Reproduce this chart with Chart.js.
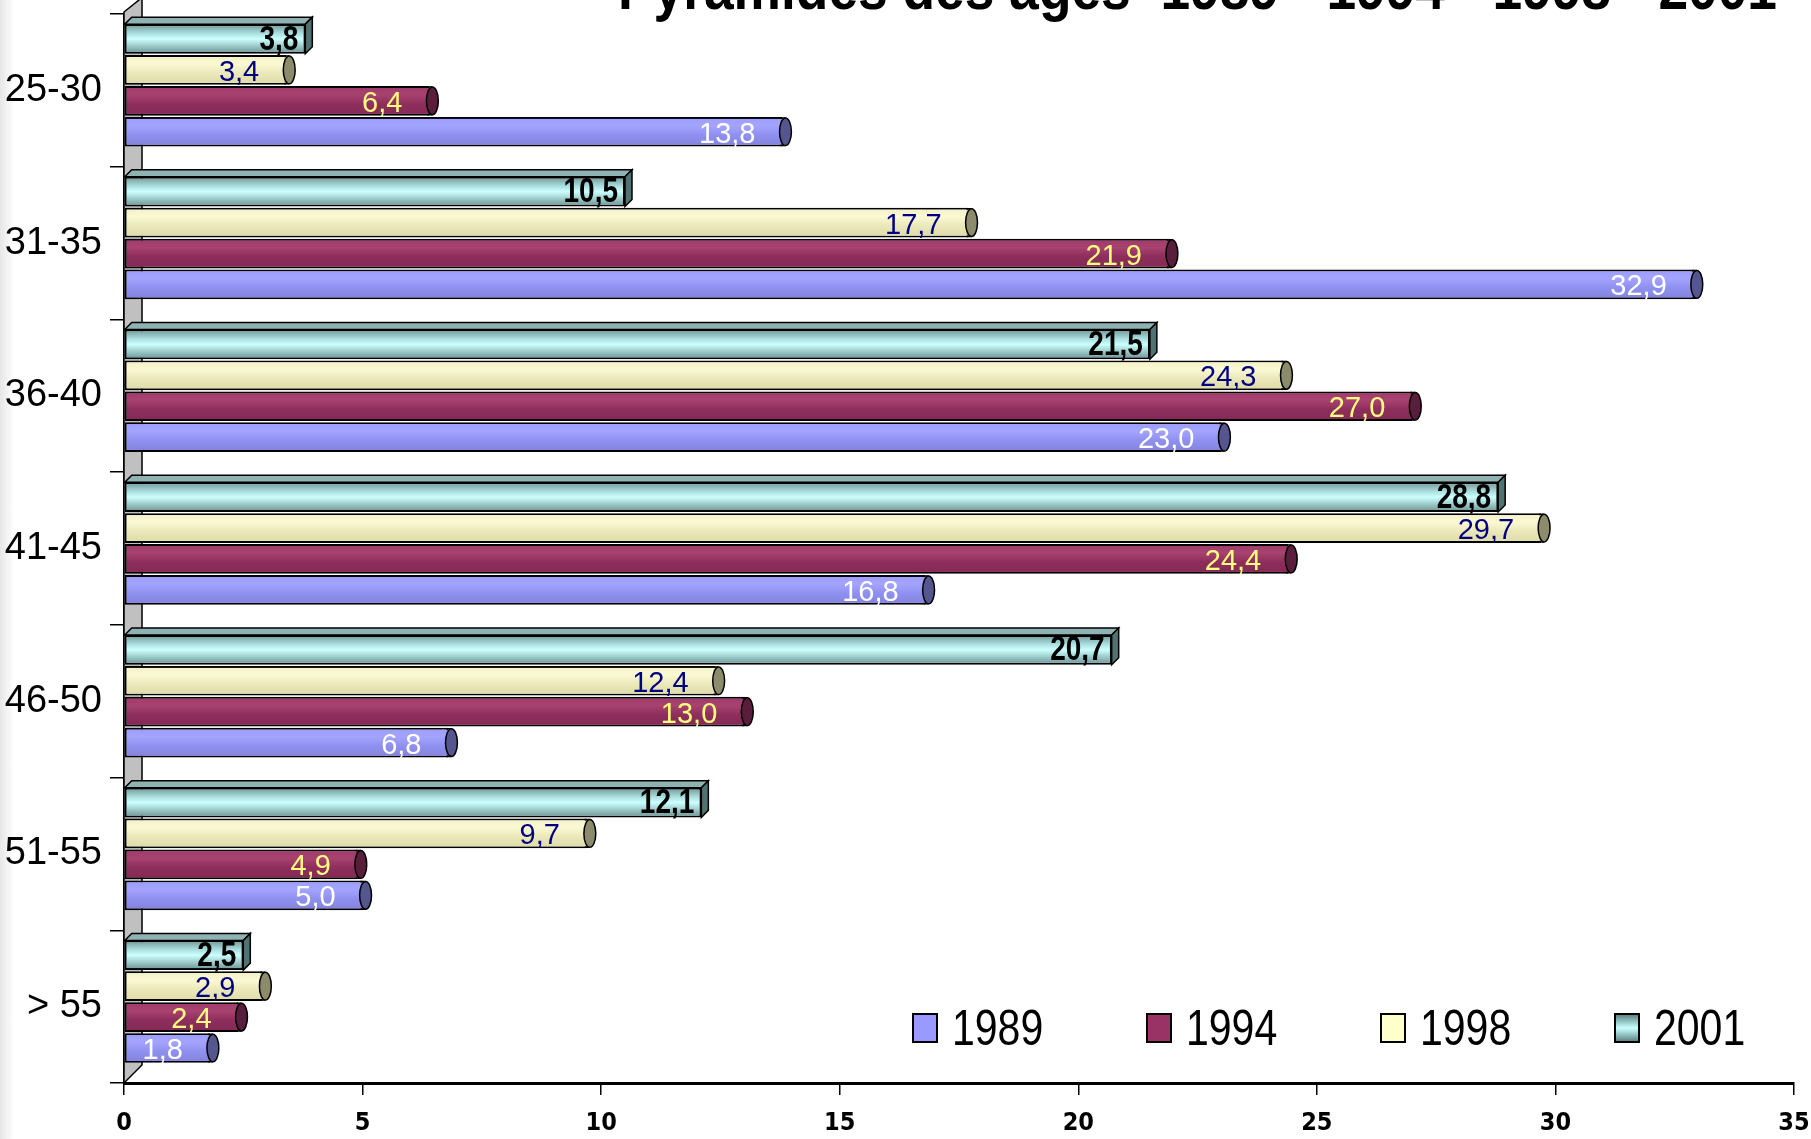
<!DOCTYPE html>
<html>
<head>
<meta charset="utf-8">
<script src="https://cdn.jsdelivr.net/npm/chart.js@4.4.1/dist/chart.umd.min.js"></script>
<style>
  html, body { margin: 0; padding: 0; }
  body {
    width: 1811px; height: 1139px; overflow: hidden; position: relative;
    background: linear-gradient(to right, #e6e6e6 0px, #ffffff 14px);
  }
  #wrap { position: absolute; left: 0; top: 0; width: 1811px; height: 1139px; }
  #title {
    position: absolute; left: 618px; top: -43px; margin: 0;
    font: bold 62px 'Liberation Sans', Arial, sans-serif;
    line-height: 62px; white-space: pre; color: #000;
    transform: scaleX(0.86); transform-origin: left top;
  }
  #legend {
    position: absolute; left: 912px; top: 1004px; display: flex;
    font: 50px 'Liberation Sans', Arial, sans-serif;
    line-height: 48px; color: #000;
  }
  #legend .item { display: flex; align-items: center; width: 234px; }
  #legend .box { width: 22px; height: 26px; border: 2px solid #000; margin-right: 14px; }
  #legend .txt { display: inline-block; transform: scaleX(0.82); transform-origin: left center; }
</style>
</head>
<body>
<div id="wrap"><canvas id="chart" width="1811" height="1139"></canvas></div>
<div id="title">Pyramides des âges  1989 - 1994 - 1998 - 2001</div>
<div id="legend"></div>
<script>
const ageGroups = ['25-30', '31-35', '36-40', '41-45', '46-50', '51-55', '> 55'];
const years = ['1989', '1994', '1998', '2001'];
const values1989 = [13.8, 32.9, 23.0, 16.8, 6.8, 5.0, 1.8];
const values1994 = [6.4, 21.9, 27.0, 24.4, 13.0, 4.9, 2.4];
const values1998 = [3.4, 17.7, 24.3, 29.7, 12.4, 9.7, 2.9];
const values2001 = [3.8, 10.5, 21.5, 28.8, 20.7, 12.1, 2.5];
const xTicks = [0, 5, 10, 15, 20, 25, 30, 35];

// look of each series: flat colour, gradient stops, end cap, label colour
const styles = {
  '1989': { base: '#9999ff', grad: ['#9c9cff', '#a4a4ff', '#9090f0', '#8282dc'], cap: '#56568f', label: '#ffffff' },
  '1994': { base: '#993366', grad: ['#a03a6c', '#a8426f', '#8e2e5c', '#822a54'], cap: '#5a1e3c', label: '#ffff80' },
  '1998': { base: '#ffffcc', grad: ['#f2f0c4', '#fbf9d4', '#ebe8ba', '#dedaa8'], cap: '#8c8b6c', label: '#000080' },
  '2001': { base: '#99cccc', grad: ['#6f9494', '#a9dcdc', '#ccffff', '#6a9090'], cap: '#4f7272', label: '#000000', box: true }
};

const sans = '"Liberation Sans", Arial, sans-serif';
const fmt = v => v.toFixed(1).replace('.', ',');

const seriesValues = { '1989': values1989, '1994': values1994, '1998': values1998, '2001': values2001 };
// top to bottom inside each group: 2001, 1998, 1994, 1989
const drawOrder = ['2001', '1998', '1994', '1989'];

const datasets = drawOrder.map(y => ({
  label: y,
  data: seriesValues[y],
  backgroundColor: styles[y].base,
  borderColor: '#000',
  borderWidth: 2,
  borderSkipped: false,
  categoryPercentage: 0.81,
  barPercentage: 0.96
}));

// the bars sit a little high in each band (3D perspective of the original)
const shiftPlugin = {
  id: 'shift',
  afterDatasetsUpdate(chart) {
    chart.data.datasets.forEach((ds, di) => {
      chart.getDatasetMeta(di).data.forEach(el => { el.y -= 5; });
    });
  }
};

// gray 3D wall behind the category axis
const wallPlugin = {
  id: 'wall',
  beforeDatasetsDraw(chart) {
    const { ctx, chartArea: a } = chart;
    const d = 18;
    ctx.save();
    ctx.beginPath();
    ctx.moveTo(a.left, a.top - 2);
    ctx.lineTo(a.left + d, a.top - 2 - d * 0.8);
    ctx.lineTo(a.left + d, a.bottom - d);
    ctx.lineTo(a.left, a.bottom);
    ctx.closePath();
    ctx.fillStyle = '#c0c0c0';
    ctx.fill();
    ctx.lineWidth = 1.5;
    ctx.strokeStyle = '#000';
    ctx.stroke();
    ctx.restore();
  }
};

// cylinder / box shading, end caps and value labels
const barLookPlugin = {
  id: 'barLook',
  afterDatasetsDraw(chart) {
    const ctx = chart.ctx;
    ctx.save();
    chart.data.datasets.forEach((ds, di) => {
      const st = styles[ds.label];
      chart.getDatasetMeta(di).data.forEach(el => {
        const top = el.y - el.height / 2, bottom = el.y + el.height / 2;
        const h = el.height;
        const g = ctx.createLinearGradient(0, top, 0, bottom);
        g.addColorStop(0, st.grad[0]);
        g.addColorStop(0.3, st.grad[1]);
        g.addColorStop(st.box ? 0.5 : 0.6, st.grad[2]);
        g.addColorStop(1, st.grad[3]);
        ctx.fillStyle = g;
        ctx.fillRect(el.base + 2, top + 2, el.x - el.base - 4, h - 4);
        ctx.lineWidth = 1.5;
        ctx.strokeStyle = '#000';
        if (st.box) {
          const d = 7;
          ctx.beginPath();
          ctx.moveTo(el.base, top);
          ctx.lineTo(el.base + d, top - d);
          ctx.lineTo(el.x + d, top - d);
          ctx.lineTo(el.x, top);
          ctx.closePath();
          ctx.fillStyle = '#8fb2b2';
          ctx.fill();
          ctx.stroke();
          ctx.beginPath();
          ctx.moveTo(el.x, top);
          ctx.lineTo(el.x + d, top - d);
          ctx.lineTo(el.x + d, bottom - d);
          ctx.lineTo(el.x, bottom);
          ctx.closePath();
          ctx.fillStyle = st.cap;
          ctx.fill();
          ctx.stroke();
        } else {
          // stretch the body to the cap, then the elliptic end
          ctx.fillStyle = g;
          ctx.fillRect(el.x - 2, top + 2, 5, h - 4);
          ctx.beginPath();
          ctx.moveTo(el.x - 2, top + 1);
          ctx.lineTo(el.x + 3, top + 1);
          ctx.moveTo(el.x - 2, bottom - 1);
          ctx.lineTo(el.x + 3, bottom - 1);
          ctx.stroke();
          ctx.beginPath();
          ctx.ellipse(el.x + 3, el.y, h * 0.2, h / 2 - 1, 0, 0, Math.PI * 2);
          ctx.fillStyle = st.cap;
          ctx.fill();
          ctx.stroke();
        }
      });
    });
    // labels last so nothing covers them
    chart.data.datasets.forEach((ds, di) => {
      const st = styles[ds.label];
      ctx.fillStyle = st.label;
      ctx.textBaseline = 'middle';
      chart.getDatasetMeta(di).data.forEach((el, i) => {
        if (st.box) {
          // bold condensed text
          ctx.save();
          ctx.translate(el.x - 7, el.y + 1);
          ctx.scale(0.8, 1);
          ctx.textAlign = 'right';
          ctx.font = 'bold 35px ' + sans;
          ctx.fillText(fmt(ds.data[i]), 0, 0);
          ctx.restore();
        } else {
          ctx.textAlign = 'right';
          ctx.font = '29px ' + sans;
          ctx.fillText(fmt(ds.data[i]), el.x - 27, el.y + 3);
        }
      });
    });
    ctx.restore();
  }
};

// keep tick label overhang from shrinking the plot area
const noOverhang = s => { s.paddingTop = 0; s.paddingBottom = 0; s.paddingLeft = 0; s.paddingRight = 0; };

const chart = new Chart(document.getElementById('chart'), {
  type: 'bar',
  data: { labels: ageGroups, datasets },
  options: {
    indexAxis: 'y',
    responsive: false,
    animation: false,
    layout: { padding: { top: 14, right: 17, left: 0, bottom: 0 } },
    plugins: {
      legend: { display: false },
      tooltip: { enabled: false }
    },
    scales: {
      x: {
        min: 0, max: 35,
        afterFit: s => { s.height = 56; noOverhang(s); },
        afterBuildTicks: s => { s.ticks = xTicks.map(v => ({ value: v })); },
        grid: { drawOnChartArea: false, color: '#000', lineWidth: 1.5, tickLength: 12 },
        border: { color: '#000', width: 3 },
        ticks: { color: '#000', padding: 13, font: { family: "'DejaVu Sans Condensed', " + sans, size: 25, weight: 'bold' } }
      },
      y: {
        afterFit: s => { s.width = 124; noOverhang(s); },
        grid: { offset: true, drawOnChartArea: false, color: '#000', lineWidth: 1.5, tickLength: 14 },
        border: { color: '#000', width: 2 },
        ticks: { color: '#000', padding: 8, font: { family: sans, size: 38 } }
      }
    }
  },
  plugins: [shiftPlugin, wallPlugin, barLookPlugin]
});

// legend from the chart's own datasets, in year order
const legend = document.getElementById('legend');
years.forEach(y => {
  const item = document.createElement('div');
  item.className = 'item';
  const box = document.createElement('span');
  box.className = 'box';
  const st = styles[y];
  box.style.background = st.box
    ? 'linear-gradient(#5f8585, #a9dcdc 35%, #ccffff 50%, #a9dcdc 65%, #5f8585)'
    : st.base;
  const txt = document.createElement('span');
  txt.className = 'txt';
  txt.textContent = y;
  item.appendChild(box);
  item.appendChild(txt);
  legend.appendChild(item);
});
</script>
</body>
</html>
